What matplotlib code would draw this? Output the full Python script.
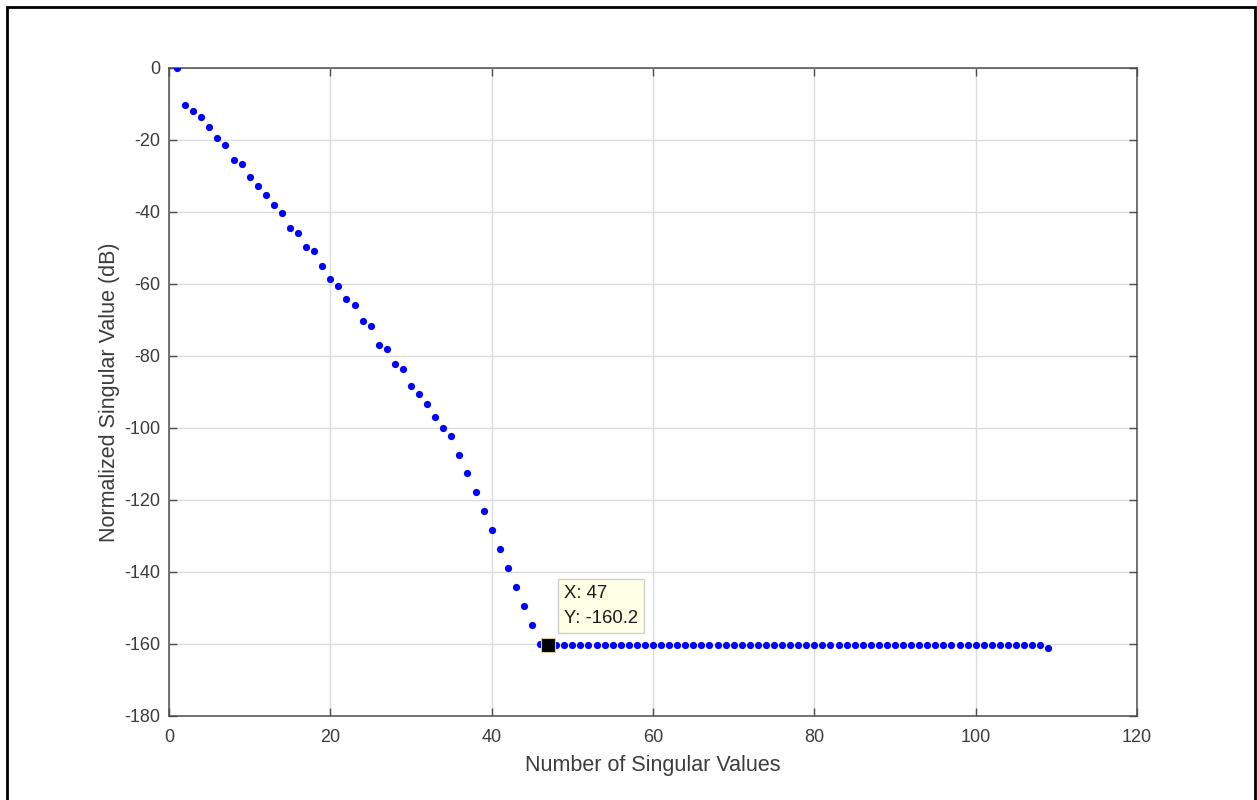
import matplotlib
matplotlib.use("Agg")
import matplotlib.pyplot as plt
from matplotlib.patches import Rectangle

plt.rcParams['font.family'] = ['Liberation Sans', 'DejaVu Sans']
plt.rcParams['axes.unicode_minus'] = False

# Singular value index and normalized magnitude (dB)
index = list(range(1, 110))
sv_db = [
    0.0, -10.2, -12.0, -13.5, -16.3, -19.4, -21.5, -25.5, -26.7, -30.4,
    -32.7, -35.4, -38.1, -40.3, -44.5, -45.8, -49.8, -50.8, -55.1, -58.6,
    -60.6, -64.3, -65.9, -70.3, -71.8, -76.9, -78.1, -82.1, -83.5, -88.3,
    -90.6, -93.3, -96.9, -99.9, -102.3, -107.4, -112.5, -117.9, -123.1, -128.4,
    -133.7, -139.0, -144.2, -149.4, -154.6, -160.1, -160.2, -160.2, -160.2, -160.2,
    -160.2, -160.2, -160.2, -160.2, -160.2, -160.2, -160.2, -160.2, -160.2, -160.2,
    -160.2, -160.2, -160.2, -160.2, -160.2, -160.2, -160.2, -160.2, -160.2, -160.2,
    -160.2, -160.2, -160.2, -160.2, -160.2, -160.2, -160.2, -160.2, -160.2, -160.2,
    -160.2, -160.2, -160.2, -160.2, -160.2, -160.2, -160.2, -160.2, -160.2, -160.2,
    -160.2, -160.2, -160.2, -160.2, -160.2, -160.2, -160.2, -160.2, -160.2, -160.2,
    -160.2, -160.2, -160.2, -160.2, -160.2, -160.2, -160.2, -160.2, -161.0,
]

x_ticks = [0, 20, 40, 60, 80, 100, 120]
y_ticks = [0, -20, -40, -60, -80, -100, -120, -140, -160, -180]

# Highlighted data point
tip_x = 47
tip_y = sv_db[index.index(tip_x)]

W, H = 1257, 800
fig = plt.figure(figsize=(W / 100, H / 100), dpi=100)
fig.patch.set_facecolor('white')

ax = fig.add_axes([169 / W, 1 - 716 / H, 968 / W, 648 / H])
ax.plot(index, sv_db, linestyle='none', marker='o', markersize=5.2,
        markerfacecolor='#0000FF', markeredgecolor='none', zorder=3)

ax.set_xlim(0, 120)
ax.set_ylim(-180, 0)
ax.set_xticks(x_ticks)
ax.set_yticks(y_ticks)
ax.grid(True, color='#dcdcdc', linewidth=1.0)
ax.set_axisbelow(True)

axis_col = '#4d4d4d'
text_col = '#3c3c3c'
for sp in ax.spines.values():
    sp.set_color(axis_col)
    sp.set_linewidth(1.1)
ax.tick_params(direction='in', length=6, width=1.0, color=axis_col,
               labelcolor=text_col, labelsize=13, top=True, right=True)
ax.tick_params(axis='x', pad=9)
ax.tick_params(axis='y', pad=6)

ax.set_xlabel('Number of Singular Values', fontsize=15.5, color=text_col, labelpad=7)
ax.set_ylabel('Normalized Singular Value (dB)', fontsize=15.5, color=text_col, labelpad=3)

# Data tip: marker and label box
ax.plot([tip_x], [tip_y], linestyle='none', marker='s', markersize=9.5,
        markerfacecolor='black', markeredgecolor='#d8d0a0', markeredgewidth=0.8,
        zorder=5)
ax.annotate(f'X: {tip_x}\nY: {tip_y:.1f}', xy=(tip_x, tip_y),
            xytext=(564 / W, 1 - 606 / H), textcoords='figure fraction',
            ha='left', va='center', fontsize=13.3, color='#1a1a1a',
            linespacing=1.65,
            bbox=dict(boxstyle='square,pad=0.32', facecolor='#ffffe6',
                      edgecolor='#cfcfcf', linewidth=1.0),
            zorder=6)

# Outer frame around the figure
fig.patches.append(Rectangle((7 / W, -0.02), (1255 - 7) / W, 1 - 7 / H + 0.02,
                             transform=fig.transFigure, fill=False,
                             edgecolor='black', linewidth=2.0))

fig.savefig('out.png', dpi=100, facecolor='white')
